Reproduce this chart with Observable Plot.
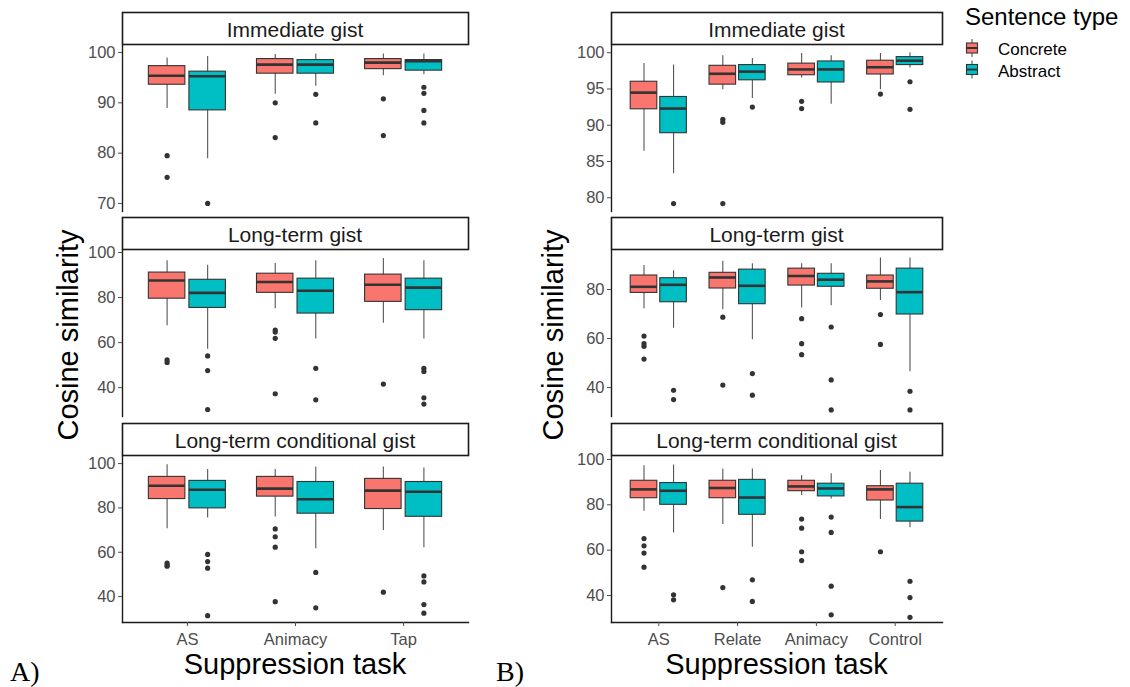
<!DOCTYPE html>
<html>
<head>
<meta charset="utf-8">
<script src="https://cdn.jsdelivr.net/npm/d3@7"></script>
<script src="https://cdn.jsdelivr.net/npm/@observablehq/plot@0.6"></script>
<style>
  html, body { margin: 0; padding: 0; background: #fff; }
  #root { position: relative; width: 1130px; height: 687px; overflow: hidden; background: #fff;
          font-family: "Liberation Sans", Arial, sans-serif; }
  #root > svg { position: absolute; }
</style>
</head>
<body>
<div id="root"></div>
<script>
// ---------------- DATA ----------------
const types = ["Concrete", "Abstract"];
const typeColors = ["#F8766D", "#00BFC4"];
const legendTitle = "Sentence type";
const facetTitles = ["Immediate gist", "Long-term gist", "Long-term conditional gist"];
const yTitle = "Cosine similarity";
const xTitle = "Suppression task";
const panelTags = ["A)", "B)"];

const tasksA = ["AS", "Animacy", "Tap"];
const tasksB = ["AS", "Relate", "Animacy", "Control"];

// box rows: task, type, lower whisker, Q1, median, Q3, upper whisker
const boxesA_immediate = [
  ["AS", "Concrete", 88.9, 93.6, 95.4, 97.3, 98.9],
  ["AS", "Abstract", 78.9, 88.5, 95.3, 96.2, 99.2],
  ["Animacy", "Concrete", 91.7, 95.8, 97.6, 98.7, 99.6],
  ["Animacy", "Abstract", 93.3, 95.8, 97.6, 98.5, 99.7],
  ["Tap", "Concrete", 95.4, 96.7, 98.0, 98.7, 99.7],
  ["Tap", "Abstract", 95.6, 96.4, 98.3, 98.5, 99.7]
];
// outliers: task, type, value
const outliersA_immediate = [
  ["AS", "Concrete", 79.5], ["AS", "Concrete", 75.2],
  ["AS", "Abstract", 70.0],
  ["Animacy", "Concrete", 90.0], ["Animacy", "Concrete", 83.1],
  ["Animacy", "Abstract", 91.7], ["Animacy", "Abstract", 86.0],
  ["Tap", "Concrete", 90.8], ["Tap", "Concrete", 83.5],
  ["Tap", "Abstract", 93.1], ["Tap", "Abstract", 91.9], ["Tap", "Abstract", 88.5], ["Tap", "Abstract", 86.0]
];

const boxesA_longterm = [
  ["AS", "Concrete", 67.5, 79.5, 87.6, 91.1, 96.3],
  ["AS", "Abstract", 57.1, 75.4, 82.1, 87.9, 94.3],
  ["Animacy", "Concrete", 75.0, 82.1, 86.9, 90.6, 95.1],
  ["Animacy", "Abstract", 61.6, 72.9, 83.0, 88.4, 96.3],
  ["Tap", "Concrete", 68.6, 78.1, 85.7, 90.2, 97.3],
  ["Tap", "Abstract", 61.6, 74.4, 84.4, 88.4, 96.3]
];
const outliersA_longterm = [
  ["AS", "Concrete", 52.4], ["AS", "Concrete", 51.2],
  ["AS", "Abstract", 54.1], ["AS", "Abstract", 47.6], ["AS", "Abstract", 30.3],
  ["Animacy", "Concrete", 65.6], ["Animacy", "Concrete", 64.7], ["Animacy", "Concrete", 61.9], ["Animacy", "Concrete", 37.3],
  ["Animacy", "Abstract", 48.6], ["Animacy", "Abstract", 34.6],
  ["Tap", "Concrete", 41.6],
  ["Tap", "Abstract", 48.6], ["Tap", "Abstract", 47.2], ["Tap", "Abstract", 35.5], ["Tap", "Abstract", 32.7]
];

const boxesA_conditional = [
  ["AS", "Concrete", 70.6, 84.0, 90.0, 94.0, 99.5],
  ["AS", "Abstract", 75.4, 79.8, 88.2, 92.2, 97.3],
  ["Animacy", "Concrete", 75.9, 85.1, 88.7, 94.0, 97.3],
  ["Animacy", "Abstract", 61.6, 77.4, 83.9, 91.7, 98.5],
  ["Tap", "Concrete", 69.8, 79.5, 87.8, 93.1, 98.5],
  ["Tap", "Abstract", 62.0, 76.0, 87.3, 91.7, 98.0]
];
const outliersA_conditional = [
  ["AS", "Concrete", 55.1], ["AS", "Concrete", 54.2], ["AS", "Concrete", 53.7],
  ["AS", "Abstract", 59.0], ["AS", "Abstract", 55.8], ["AS", "Abstract", 52.8], ["AS", "Abstract", 31.4],
  ["Animacy", "Concrete", 70.5], ["Animacy", "Concrete", 67.0], ["Animacy", "Concrete", 62.3], ["Animacy", "Concrete", 37.7],
  ["Animacy", "Abstract", 50.9], ["Animacy", "Abstract", 34.9],
  ["Tap", "Concrete", 42.0],
  ["Tap", "Abstract", 49.3], ["Tap", "Abstract", 46.6], ["Tap", "Abstract", 36.4], ["Tap", "Abstract", 32.5]
];

const boxesB_immediate = [
  ["AS", "Concrete", 86.4, 92.2, 94.5, 96.0, 98.5],
  ["AS", "Abstract", 83.3, 88.9, 92.3, 93.9, 98.3],
  ["Relate", "Concrete", 94.9, 95.6, 97.1, 98.2, 99.6],
  ["Relate", "Abstract", 93.7, 96.2, 97.4, 98.3, 99.2],
  ["Animacy", "Concrete", 96.5, 96.9, 97.7, 98.5, 99.9],
  ["Animacy", "Abstract", 92.9, 95.9, 97.7, 98.8, 99.6],
  ["Control", "Concrete", 94.9, 97.0, 98.0, 98.9, 99.9],
  ["Control", "Abstract", 97.9, 98.3, 98.9, 99.4, 100.0]
];
const outliersB_immediate = [
  ["AS", "Abstract", 79.2],
  ["Relate", "Concrete", 90.8], ["Relate", "Concrete", 90.4], ["Relate", "Concrete", 79.2],
  ["Relate", "Abstract", 92.5],
  ["Animacy", "Concrete", 93.3], ["Animacy", "Concrete", 92.3],
  ["Control", "Concrete", 94.3],
  ["Control", "Abstract", 96.0], ["Control", "Abstract", 92.2]
];

const boxesB_longterm = [
  ["AS", "Concrete", 72.1, 78.6, 81.1, 85.7, 89.8],
  ["AS", "Abstract", 64.2, 74.8, 81.9, 84.6, 87.6],
  ["Relate", "Concrete", 71.7, 80.4, 84.9, 86.8, 91.5],
  ["Relate", "Abstract", 59.5, 74.0, 81.5, 88.1, 90.5],
  ["Animacy", "Concrete", 72.4, 81.6, 85.5, 88.5, 90.5],
  ["Animacy", "Abstract", 73.4, 81.1, 84.0, 86.4, 90.5],
  ["Control", "Concrete", 75.5, 80.3, 83.3, 85.7, 92.8],
  ["Control", "Abstract", 46.4, 69.8, 78.9, 88.5, 92.8]
];
const outliersB_longterm = [
  ["AS", "Concrete", 61.0], ["AS", "Concrete", 57.9], ["AS", "Concrete", 56.8], ["AS", "Concrete", 51.6],
  ["AS", "Abstract", 38.9], ["AS", "Abstract", 35.1],
  ["Relate", "Concrete", 68.7], ["Relate", "Concrete", 41.0],
  ["Relate", "Abstract", 45.7], ["Relate", "Abstract", 36.9],
  ["Animacy", "Concrete", 68.1], ["Animacy", "Concrete", 57.9], ["Animacy", "Concrete", 53.4],
  ["Animacy", "Abstract", 64.7], ["Animacy", "Abstract", 43.1], ["Animacy", "Abstract", 30.9],
  ["Control", "Concrete", 69.8], ["Control", "Concrete", 57.6],
  ["Control", "Abstract", 38.5], ["Control", "Abstract", 30.9]
];

const boxesB_conditional = [
  ["AS", "Concrete", 77.2, 82.9, 86.8, 90.6, 97.2],
  ["AS", "Abstract", 67.6, 80.0, 86.2, 89.6, 97.6],
  ["Relate", "Concrete", 71.3, 82.9, 87.4, 90.6, 95.8],
  ["Relate", "Abstract", 61.3, 75.6, 83.2, 91.0, 95.8],
  ["Animacy", "Concrete", 84.1, 86.0, 88.1, 90.6, 92.9],
  ["Animacy", "Abstract", 82.6, 83.7, 87.2, 89.3, 93.7],
  ["Control", "Concrete", 73.5, 81.9, 86.8, 88.2, 95.1],
  ["Control", "Abstract", 69.9, 72.6, 79.0, 89.3, 94.4]
];
const outliersB_conditional = [
  ["AS", "Concrete", 65.1], ["AS", "Concrete", 61.9], ["AS", "Concrete", 58.7], ["AS", "Concrete", 52.5],
  ["AS", "Abstract", 40.3], ["AS", "Abstract", 38.1],
  ["Relate", "Concrete", 43.5],
  ["Relate", "Abstract", 46.9], ["Relate", "Abstract", 37.4],
  ["Animacy", "Concrete", 73.7], ["Animacy", "Concrete", 69.7], ["Animacy", "Concrete", 59.3], ["Animacy", "Concrete", 55.4],
  ["Animacy", "Abstract", 74.6], ["Animacy", "Abstract", 67.8], ["Animacy", "Abstract", 44.1], ["Animacy", "Abstract", 31.5],
  ["Control", "Concrete", 59.3],
  ["Control", "Abstract", 46.3], ["Control", "Abstract", 39.1], ["Control", "Abstract", 30.4]
];

// y scale domains and tick values, per facet
const yDomainsA = [[68.4, 101.4], [27.2, 100.9], [28.3, 103.2]];
const yDomainsB = [[78.1, 101.0], [28.2, 95.9], [28.1, 101.3]];
const yTicksA = [[70, 80, 90, 100], [40, 60, 80, 100], [40, 60, 80, 100]];
const yTicksB = [[80, 85, 90, 95, 100], [40, 60, 80], [40, 60, 80, 100]];

// ---------------- LAYOUT ----------------
const ML = 60, MR = 6, MT = 6, MB = 6, MB_LAST = 36;
const rowTops = [45, 250, 456];
const rowH = 166;
const stripH = 33;
const panelsX = { A: [122, 468], B: [611, 942] };
const FONT = '"Liberation Sans", Arial, sans-serif';
const ink = "#333333";
const TICK_FONT = 16.5;

const root = document.getElementById("root");

function facetPlot({tasks, boxes, outliers, domain, ticks, last, x0, x1, top}) {
  const plotW = x1 - x0;
  const u = plotW / (tasks.length + 0.2);        // one category unit in px
  const inset = 0.20625 * u;                       // box width = 0.3375 unit
  const boxRows = boxes.map(([task, type, lo, q1, med, q3, hi]) => ({task, type, lo, q1, med, q3, hi}));
  const outRows = outliers.map(([task, type, v]) => ({task, type, v}));
  const marks = [];
  marks.push(Plot.frame({anchor: "left", stroke: "#1a1a1a", strokeWidth: 1.4}));
  if (last) marks.push(Plot.frame({anchor: "bottom", stroke: "#1a1a1a", strokeWidth: 1.4}));
  marks.push(Plot.axisY({ticks, tickSize: 4, tickPadding: 3, fontSize: TICK_FONT, color: "#4d4d4d", label: null}));
  if (last) marks.push(Plot.axisX({tickSize: 4, tickPadding: 7, fontSize: TICK_FONT, color: "#4d4d4d", label: null}));
  types.forEach((t, i) => {
    const dx = (i === 0 ? -1 : 1) * 0.1875 * u;
    const b = boxRows.filter(d => d.type === t);
    const o = outRows.filter(d => d.type === t);
    marks.push(
      Plot.ruleX(b, {x: "task", y1: "lo", y2: "hi", dx, stroke: "#555", strokeWidth: 1.1}),
      Plot.barY(b, {x: "task", y1: "q1", y2: "q3", fill: "type", stroke: ink, strokeWidth: 1.1, insetLeft: inset, insetRight: inset, dx}),
      Plot.tickY(b, {x: "task", y: "med", stroke: ink, strokeWidth: 2.6, insetLeft: inset, insetRight: inset, dx}),
      Plot.dot(o, {x: "task", y: "v", dx, r: 2.6, fill: ink})
    );
  });
  const mb = last ? MB_LAST : MB;
  const svg = Plot.plot({
    width: ML + plotW + MR,
    height: MT + rowH + mb,
    marginLeft: ML, marginRight: MR, marginTop: MT, marginBottom: mb,
    style: {background: "transparent", fontFamily: FONT, fontSize: TICK_FONT + "px", overflow: "visible"},
    x: last ? {domain: tasks, paddingInner: 0.25, paddingOuter: 0.225, round: false}
            : {domain: tasks, paddingInner: 0.25, paddingOuter: 0.225, round: false, axis: null},
    y: {domain, axis: null},
    color: {domain: types, range: typeColors},
    marks
  });
  svg.style.left = (x0 - ML) + "px";
  svg.style.top = (top - MT) + "px";
  root.appendChild(svg);
}

const panels = [
  {key: "A", tasks: tasksA,
   boxes: [boxesA_immediate, boxesA_longterm, boxesA_conditional],
   outliers: [outliersA_immediate, outliersA_longterm, outliersA_conditional],
   domains: yDomainsA, ticks: yTicksA},
  {key: "B", tasks: tasksB,
   boxes: [boxesB_immediate, boxesB_longterm, boxesB_conditional],
   outliers: [outliersB_immediate, outliersB_longterm, outliersB_conditional],
   domains: yDomainsB, ticks: yTicksB}
];

panels.forEach(p => {
  const [x0, x1] = panelsX[p.key];
  for (let r = 0; r < 3; r++) {
    facetPlot({tasks: p.tasks, boxes: p.boxes[r], outliers: p.outliers[r],
      domain: p.domains[r], ticks: p.ticks[r], last: r === 2, x0, x1, top: rowTops[r]});
  }
});

// ---------------- OVERLAY: strips, titles, legend, tags ----------------
const ov = d3.create("svg")
  .attr("width", 1130).attr("height", 687)
  .style("left", "0px").style("top", "0px")
  .style("font-family", FONT)
  .style("pointer-events", "none");

panels.forEach((p, pi) => {
  const [x0, x1] = panelsX[p.key];
  rowTops.forEach((t, r) => {
    ov.append("rect")
      .attr("x", x0 + 0.5).attr("y", t - stripH + 0.5)
      .attr("width", x1 - x0).attr("height", stripH - 1)
      .attr("fill", "#fff").attr("stroke", "#1a1a1a").attr("stroke-width", 1.6);
    ov.append("text")
      .attr("x", (x0 + x1) / 2).attr("y", t - stripH + 25)
      .attr("text-anchor", "middle").attr("font-size", 21).attr("fill", "#1a1a1a")
      .text(facetTitles[r]);
  });
  // x title
  ov.append("text")
    .attr("x", (x0 + x1) / 2).attr("y", 674)
    .attr("text-anchor", "middle").attr("font-size", 29).attr("fill", "#000")
    .text(xTitle);
  // y title
  const yx = pi === 0 ? 78 : 563;
  ov.append("text")
    .attr("transform", `translate(${yx},335) rotate(-90)`)
    .attr("text-anchor", "middle").attr("font-size", 29).attr("fill", "#000")
    .text(yTitle);
  // panel tag
  ov.append("text")
    .attr("x", pi === 0 ? 10 : 496).attr("y", 681)
    .attr("font-family", '"Liberation Serif", "Times New Roman", serif')
    .attr("font-size", 28).attr("fill", "#000")
    .text(panelTags[pi]);
});

// legend
ov.append("text").attr("x", 965).attr("y", 25).attr("font-size", 24).attr("fill", "#000").text(legendTitle);
types.forEach((t, i) => {
  const cy = 48 + i * 21.5;
  const g = ov.append("g");
  g.append("line").attr("x1", 972).attr("x2", 972).attr("y1", cy - 9).attr("y2", cy + 9)
    .attr("stroke", "#555").attr("stroke-width", 1.1);
  g.append("rect").attr("x", 966.5).attr("y", cy - 5).attr("width", 11).attr("height", 10)
    .attr("fill", typeColors[i]).attr("stroke", ink).attr("stroke-width", 1.1);
  g.append("line").attr("x1", 966.5).attr("x2", 977.5).attr("y1", cy).attr("y2", cy)
    .attr("stroke", ink).attr("stroke-width", 2);
  ov.append("text").attr("x", 998).attr("y", cy + 7).attr("font-size", 17).attr("fill", "#000").text(t);
});

root.appendChild(ov.node());
</script>
</body>
</html>
